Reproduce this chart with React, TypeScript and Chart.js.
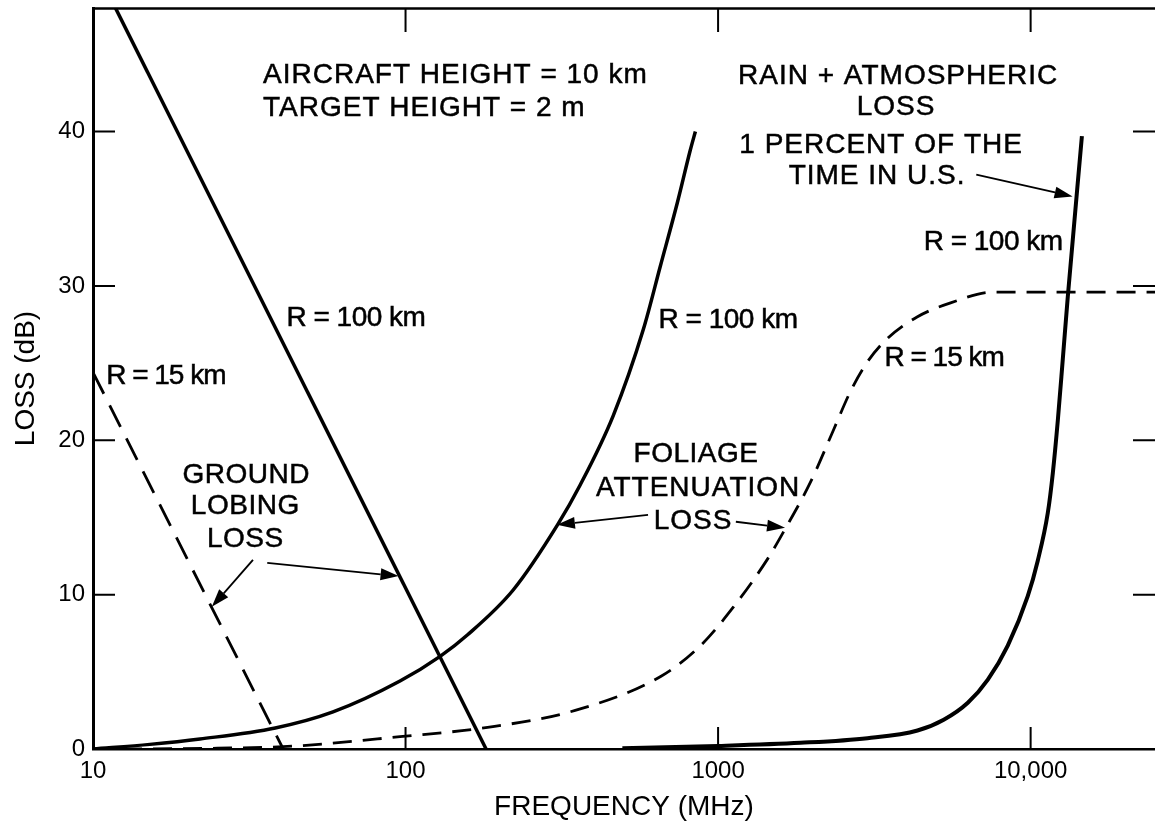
import React, { useEffect, useRef } from 'react';
import { Chart, registerables } from 'chart.js';

Chart.register(...registerables);

// ---------- axis ticks ----------
const X_TICKS = [10, 100, 1000, 10000];
const X_TICK_LABELS = ['10', '100', '1000', '10,000'];
const Y_TICKS = [0, 10, 20, 30, 40];
const Y_INNER_TICKS = [10, 20, 30, 40];

// ---------- series (frequency MHz, loss dB) ----------
const groundLobing100Freq = [11.8, 181];
const groundLobing100Loss = [48, 0];

const groundLobing15Freq = [10, 40.6];
const groundLobing15Loss = [24.4, 0];

const foliage100Freq = [10, 15.2, 22, 38.3, 58.6, 96, 129, 158, 221, 306, 362, 462, 577, 654, 741, 815, 846];
const foliage100Loss = [0, 0.3, 0.65, 1.36, 2.4, 4.4, 6.0, 7.4, 10.3, 14.5, 17.1, 21.6, 27.2, 31.3, 35.4, 38.8, 40.0];

const foliage15Freq = [10, 25, 45, 96, 183, 349, 655, 879, 1120, 1439, 1644, 1977, 2344, 2657, 3010, 3485, 4345, 5545, 7620, 25000];
const foliage15Loss = [0, 0.05, 0.2, 0.8, 1.4, 2.5, 4.7, 6.7, 9.2, 12.3, 14.3, 17.3, 20.7, 23.2, 25.1, 26.6, 28.0, 28.9, 29.6, 29.6];

const rainFreq = [494, 1000, 1837, 3006, 4345, 5272, 6296, 7297, 8450, 9790, 10540, 11350, 11780, 12220, 12680, 13150, 14590];
const rainLoss = [0.05, 0.2, 0.4, 0.7, 1.2, 1.9, 3.0, 4.5, 6.7, 9.9, 12.2, 15.3, 17.9, 21.3, 25.3, 29.3, 39.7];

// ---------- annotation texts (anchored in data coordinates) ----------
type Note = { text: string; f: number; db: number; align: CanvasTextAlign; spacing: number };
const notes: Note[] = [
  { text: 'AIRCRAFT HEIGHT = 10 km', f: 35.0, db: 43.63, align: 'left', spacing: 1 },
  { text: 'TARGET HEIGHT = 2 m', f: 35.0, db: 41.49, align: 'left', spacing: 1 },
  { text: 'RAIN + ATMOSPHERIC', f: 3767, db: 43.57, align: 'center', spacing: 1 },
  { text: 'LOSS', f: 3712, db: 41.56, align: 'center', spacing: 1 },
  { text: '1 PERCENT OF THE', f: 3323, db: 39.09, align: 'center', spacing: 1 },
  { text: 'TIME IN U.S.', f: 3227, db: 37.08, align: 'center', spacing: 1 },
  { text: 'R = 100 km', f: 7586, db: 32.8, align: 'center', spacing: -0.5 },
  { text: 'R = 100 km', f: 69.4, db: 27.88, align: 'center', spacing: -0.5 },
  { text: 'R = 15 km', f: 17.1, db: 24.12, align: 'center', spacing: -1 },
  { text: 'R = 100 km', f: 1076, db: 27.75, align: 'center', spacing: -0.5 },
  { text: 'R = 15 km', f: 5288, db: 25.32, align: 'center', spacing: -1 },
  { text: 'GROUND', f: 30.9, db: 17.76, align: 'center', spacing: 0.5 },
  { text: 'LOBING', f: 30.7, db: 15.75, align: 'center', spacing: 0.5 },
  { text: 'LOSS', f: 30.7, db: 13.61, align: 'center', spacing: 0.5 },
  { text: 'FOLIAGE', f: 850, db: 19.12, align: 'center', spacing: 0.5 },
  { text: 'ATTENUATION', f: 863, db: 16.92, align: 'center', spacing: 1 },
  { text: 'LOSS', f: 832, db: 14.78, align: 'center', spacing: 1 },
];

type Arrow = { f0: number; d0: number; f1: number; d1: number };
const arrows: Arrow[] = [
  { f0: 6700, d0: 37.21, f1: 13620, d1: 35.79 },
  { f0: 32.5, d0: 12.25, f1: 24.0, d1: 9.21 },
  { f0: 36.1, d0: 12.06, f1: 95, d1: 11.2 },
  { f0: 597, d0: 15.17, f1: 305, d1: 14.52 },
  { f0: 1140, d0: 14.72, f1: 1638, d1: 14.33 },
];

const FONT = '"Liberation Sans", Arial, sans-serif';

const pts = (fs: number[], ls: number[]) => fs.map((f, i) => ({ x: f, y: ls[i] }));

const framePlugin = {
  id: 'frame',
  afterDraw(chart: any) {
    const { ctx, chartArea, scales } = chart;
    const { left, right, top, bottom } = chartArea;
    ctx.save();
    ctx.strokeStyle = '#000';
    ctx.lineWidth = 2.5;
    ctx.beginPath();
    ctx.moveTo(left, top + 0.5);
    ctx.lineTo(right, top + 0.5);
    ctx.stroke();
    ctx.lineWidth = 2;
    const L = 22;
    for (const v of Y_INNER_TICKS) {
      const y = scales.y.getPixelForValue(v);
      ctx.beginPath();
      ctx.moveTo(left, y);
      ctx.lineTo(left + L, y);
      ctx.moveTo(right - L, y);
      ctx.lineTo(right, y);
      ctx.stroke();
    }
    for (const v of X_TICKS.slice(1)) {
      const x = scales.x.getPixelForValue(v);
      ctx.beginPath();
      ctx.moveTo(x, top);
      ctx.lineTo(x, top + L + 2);
      ctx.moveTo(x, bottom);
      ctx.lineTo(x, bottom - L);
      ctx.stroke();
    }
    ctx.restore();
  },
};

const notePlugin = {
  id: 'notes',
  afterDatasetsDraw(chart: any) {
    const { ctx, scales } = chart;
    const px = (f: number) => scales.x.getPixelForValue(f);
    const py = (d: number) => scales.y.getPixelForValue(d);
    ctx.save();
    ctx.fillStyle = '#000';
    ctx.strokeStyle = '#000';
    ctx.font = `28px ${FONT}`;
    ctx.textBaseline = 'middle';
    ctx.lineWidth = 0.5;
    for (const n of notes) {
      (ctx as any).letterSpacing = `${n.spacing}px`;
      ctx.textAlign = n.align;
      ctx.fillText(n.text, px(n.f), py(n.db));
      ctx.strokeText(n.text, px(n.f), py(n.db));
    }
    (ctx as any).letterSpacing = '0px';
    ctx.lineWidth = 1.8;
    for (const a of arrows) {
      const x0 = px(a.f0), y0 = py(a.d0), x1 = px(a.f1), y1 = py(a.d1);
      const ang = Math.atan2(y1 - y0, x1 - x0);
      const hl = 18, hw = 6;
      const bx = x1 - hl * Math.cos(ang), by = y1 - hl * Math.sin(ang);
      ctx.beginPath();
      ctx.moveTo(x0, y0);
      ctx.lineTo(bx, by);
      ctx.stroke();
      ctx.beginPath();
      ctx.moveTo(x1, y1);
      ctx.lineTo(bx + hw * Math.sin(ang), by - hw * Math.cos(ang));
      ctx.lineTo(bx - hw * Math.sin(ang), by + hw * Math.cos(ang));
      ctx.closePath();
      ctx.fill();
    }
    ctx.restore();
  },
};

export default function App() {
  const ref = useRef<HTMLCanvasElement>(null);
  useEffect(() => {
    const canvas = ref.current;
    if (!canvas) return;
    const base = { borderColor: '#000', pointRadius: 0, fill: false };
    const chart = new Chart(canvas, {
      type: 'line',
      data: {
        datasets: [
          { ...base, label: 'Ground lobing loss R=100 km', data: pts(groundLobing100Freq, groundLobing100Loss), borderWidth: 3.5, tension: 0 },
          { ...base, label: 'Ground lobing loss R=15 km', data: pts(groundLobing15Freq, groundLobing15Loss), borderWidth: 2.8, borderDash: [24, 13], tension: 0 },
          { ...base, label: 'Foliage attenuation loss R=100 km', data: pts(foliage100Freq, foliage100Loss), borderWidth: 3.5, cubicInterpolationMode: 'monotone' },
          { ...base, label: 'Foliage attenuation loss R=15 km', data: pts(foliage15Freq, foliage15Loss), borderWidth: 2.8, borderDash: [19, 11], cubicInterpolationMode: 'monotone' },
          { ...base, label: 'Rain + atmospheric loss R=100 km', data: pts(rainFreq, rainLoss), borderWidth: 4, cubicInterpolationMode: 'monotone' },
        ] as any,
      },
      options: {
        animation: false,
        responsive: false,
        maintainAspectRatio: false,
        layout: { padding: { top: 8, left: 0, right: 0, bottom: 0 } },
        plugins: { legend: { display: false }, tooltip: { enabled: false } },
        scales: {
          x: {
            type: 'logarithmic',
            min: 10,
            max: 25000,
            afterBuildTicks: (s: any) => { s.ticks = X_TICKS.map((v) => ({ value: v })); },
            afterFit: (s: any) => { s.height = 78; s.paddingLeft = 0; s.paddingRight = 0; },
            ticks: {
              callback: (_v: any, i: number) => X_TICK_LABELS[i],
              autoSkip: false,
              maxRotation: 0,
              padding: 8,
              color: '#000',
              font: { family: FONT, size: 24 },
            },
            grid: { display: false, drawTicks: false },
            border: { display: true, color: '#000', width: 2.5 },
            title: { display: true, text: 'FREQUENCY (MHz)', color: '#000', font: { family: FONT, size: 28 }, padding: { top: 0, bottom: 3 } },
          },
          y: {
            type: 'linear',
            min: 0,
            max: 48,
            afterBuildTicks: (s: any) => { s.ticks = Y_TICKS.map((v) => ({ value: v })); },
            afterFit: (s: any) => { s.width = 93; s.paddingTop = 0; s.paddingBottom = 0; },
            ticks: { padding: 8, color: '#000', font: { family: FONT, size: 24 } },
            grid: { display: false, drawTicks: false },
            border: { display: true, color: '#000', width: 3 },
            title: { display: true, text: 'LOSS (dB)', color: '#000', font: { family: FONT, size: 28 }, padding: { top: 9, bottom: 0 } },
          },
        },
      } as any,
      plugins: [framePlugin, notePlugin],
    });
    return () => chart.destroy();
  }, []);
  return (
    <div style={{ position: 'fixed', left: 0, top: 0, width: 1155, height: 827, background: '#fff' }}>
      <canvas ref={ref} width={1155} height={827} style={{ display: 'block' }} />
    </div>
  );
}
